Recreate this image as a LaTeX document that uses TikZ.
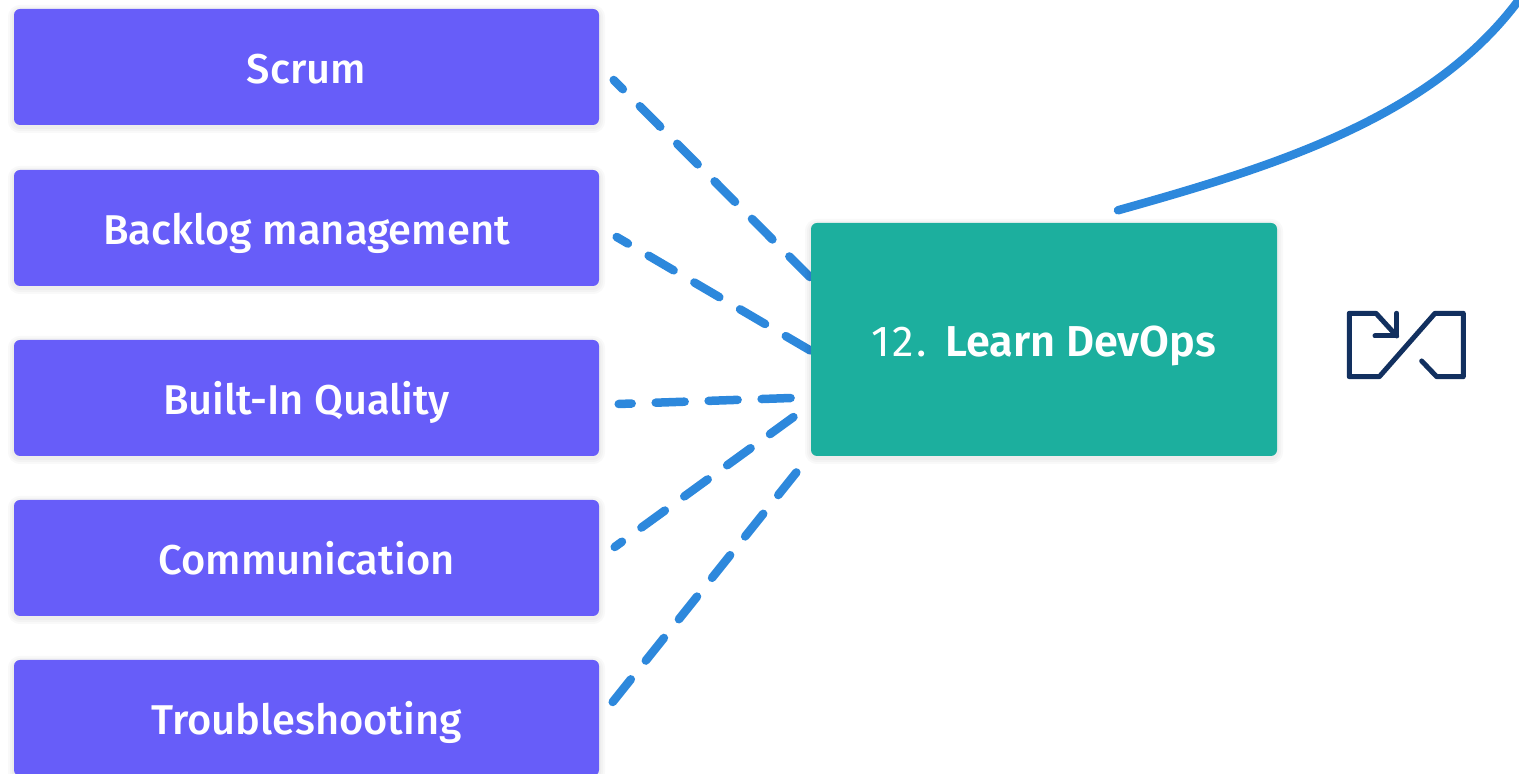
\documentclass[tikz,border=0pt]{standalone}
\usepackage{fontspec}
\usepackage{xcolor}
\usepackage{tikz}
\usetikzlibrary{backgrounds}
\setmainfont{Fira Sans Medium}[BoldFont={Fira Sans SemiBold}]
\newfontfamily\numfont{Fira Sans}[LetterSpace=5]
\definecolor{topic}{HTML}{675DF9}
\definecolor{stage}{HTML}{1CAF9E}
\definecolor{link}{HTML}{2D88DC}
\definecolor{icon}{HTML}{12305F}
\tikzset{
  halo/.style={preaction={draw=black, draw opacity=0.025, line width=#1, transform canvas={yshift=-0.2mm}}},
  box/.style={rounded corners=0.6mm, text=white, inner sep=0pt,
    text height=3.4mm, text depth=0pt, halo=1.2mm, halo=0.8mm, halo=0.4mm},
  topicbox/.style={box, fill=topic, font=\fontsize{11.85}{15}\selectfont, minimum width=58.5mm, minimum height=11.6mm},
  stagebox/.style={box, fill=stage, font=\fontsize{12.3}{15}\selectfont, minimum width=46.6mm, minimum height=23.3mm},
  dashline/.style={draw=link, line width=0.85mm, line cap=round, dash pattern=on 2.9mm off 2.4mm},
  pathline/.style={draw=link, line width=0.85mm, line cap=round},
  iconline/.style={draw=icon, line width=0.5mm, line cap=round, line join=round},
}
\begin{document}
\begin{tikzpicture}[x=0.1mm,y=-0.1mm]
  \useasboundingbox (0,0) rectangle (1519,774);
  \clip (0,0) rectangle (1519,774);

  \node[topicbox] (scrum) at (306.5,67) {Scrum};
  \node[topicbox] (backlog) at (306.5,228) {Backlog management};
  \node[topicbox] (quality) at (306.5,398) {Built-In Quality};
  \node[topicbox] (comm) at (306.5,558) {Communication};
  \node[topicbox] (trouble) at (306.5,718) {Troubleshooting};
  \node[stagebox] (devops) at (1044,339.5) {{\numfont 12.}\hspace{1.7mm}\textbf{Learn DevOps}\hspace{2.4mm}};
  \coordinate (curveend) at (1526,-10);

  \begin{scope}[on background layer]
    \draw[dashline, dash phase=1.6mm] ([shift={(14,13)}]scrum.east) -- ([shift={(0,-62)}]devops.west);
    \draw[dashline, dash phase=1.6mm] ([shift={(17,9)}]backlog.east) -- ([shift={(0,11)}]devops.west);
    \draw[dashline, dash phase=1.6mm] ([shift={(19,6)}]quality.east) -- ([shift={(-19,58.5)}]devops.west);
    \draw[dashline, dash phase=2mm] ([shift={(15,-11)}]comm.east) -- ([shift={(-14,75.5)}]devops.west);
    \draw[dashline] ([shift={(13,-16)}]trouble.east) -- ([shift={(-12,130.5)}]devops.west);
  \end{scope}
  \draw[pathline] ([shift={(74,-12)}]devops.north) .. controls (1280,165) and (1440,115) .. (curveend);

  % icon
  \draw[iconline] (1396.7,313.3) -- (1396.7,336) -- (1375,336);
  \draw[iconline] (1396.7,336) -- (1376,313.3) -- (1349.3,313.3) -- (1349.3,376.7) -- (1379.3,376.7)
    -- (1435,313.3) -- (1463.3,313.3) -- (1463.3,376.7) -- (1436.7,376.7) -- (1421.7,361);
\end{tikzpicture}
\end{document}
